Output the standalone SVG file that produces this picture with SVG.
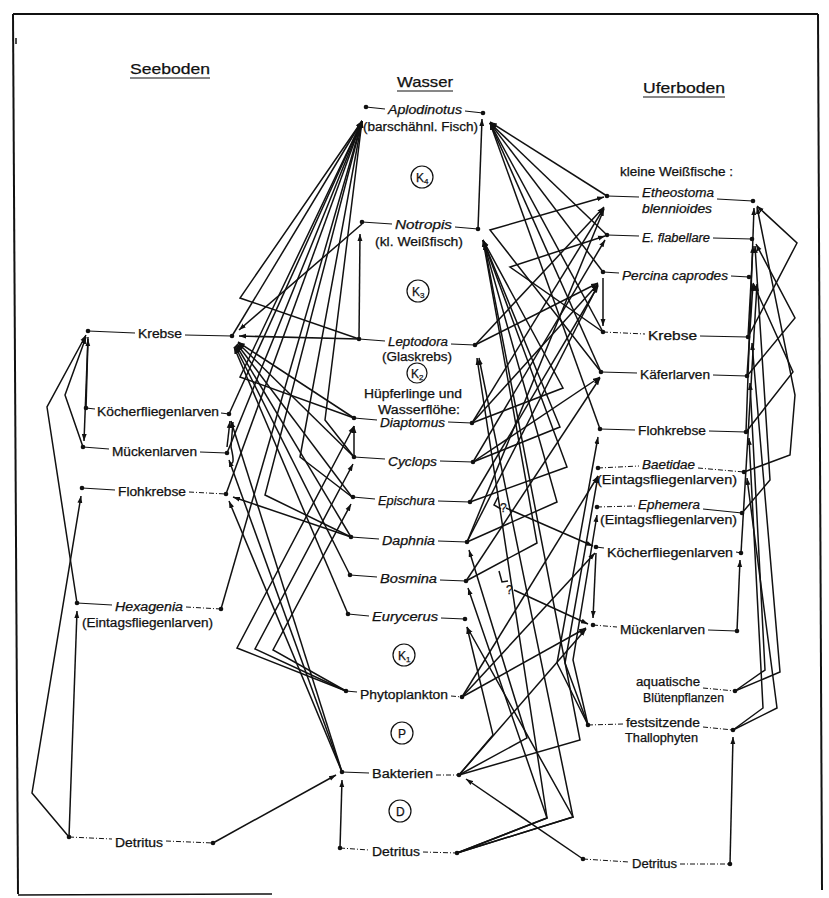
<svg xmlns="http://www.w3.org/2000/svg" width="829" height="898" viewBox="0 0 829 898">
<defs>
<marker id="ah" viewBox="0 0 10 10" refX="10" refY="5" markerWidth="7" markerHeight="7" markerUnits="userSpaceOnUse" orient="auto"><path d="M0,1.5 L10,5 L0,8.5 z" fill="#111"/></marker>
</defs>
<style>
.t{font-family:"Liberation Sans",Arial,sans-serif;font-size:12px;fill:#111;stroke:#111;stroke-width:0.25}
.i{font-style:italic}
.h{font-size:15px}
.s{stroke:#111;stroke-width:1.1;fill:none}
.dd{stroke:#111;stroke-width:1;fill:none;stroke-dasharray:5 2 1 2}
.d{fill:#111}
.k{fill:none;stroke:#111;stroke-width:1.2}
.cn path{stroke:#111;stroke-width:1.5;fill:none;marker-end:url(#ah)}
.cn path.n{marker-end:none}
</style>
<rect width="829" height="898" fill="#fff"/>
<g id="frame" fill="none" stroke="#111">
<path d="M13,14 L818,14" stroke-width="2"/>
<path d="M13,14 L18,894" stroke-width="2"/>
<path d="M818,14 L822,890" stroke-width="2"/>
<path d="M18,895 L272,894" stroke-width="1.5"/>
<path d="M16,38 L16,44" stroke-width="1.5"/>
</g>
<g id="headers">
<text class="t h" x="130" y="74" textLength="80" lengthAdjust="spacingAndGlyphs">Seeboden</text><path class="s" d="M130,78 L210,78"/>
<text class="t h" x="397" y="87" textLength="56" lengthAdjust="spacingAndGlyphs">Wasser</text><path class="s" d="M397,91 L453,91"/>
<text class="t h" x="643" y="93" textLength="82" lengthAdjust="spacingAndGlyphs">Uferboden</text><path class="s" d="M643,97 L725,97"/>
</g>
<g id="levels">
<circle class="k" cx="422" cy="177" r="11"/><text class="t" x="416" y="182" font-size="12">K<tspan font-size="8" dy="2">4</tspan></text>
<circle class="k" cx="418" cy="291" r="11"/><text class="t" x="412" y="296" font-size="12">K<tspan font-size="8" dy="2">3</tspan></text>
<circle class="k" cx="417" cy="373" r="10"/><text class="t" x="411" y="378" font-size="12">K<tspan font-size="8" dy="2">2</tspan></text>
<circle class="k" cx="404" cy="655" r="11"/><text class="t" x="398" y="660" font-size="12">K<tspan font-size="8" dy="2">1</tspan></text>
<circle class="k" cx="402" cy="733" r="11"/><text class="t" x="398" y="738" font-size="12">P</text>
<circle class="k" cx="400" cy="811" r="11"/><text class="t" x="396" y="816" font-size="12">D</text>
</g>
<g id="n-aplodinotus"><circle class="d" cx="366" cy="107" r="2.3"/><circle class="d" cx="483" cy="113" r="2.3"/><path class="s" d="M366,107 L385,109 M465,111 L483,113"/><text class="t i" x="388" y="114" textLength="74" lengthAdjust="spacingAndGlyphs">Aplodinotus</text><text class="t" x="363" y="131" textLength="115" lengthAdjust="spacingAndGlyphs">(barschähnl. Fisch)</text></g>
<g id="n-notropis"><circle class="d" cx="362" cy="222" r="2.3"/><circle class="d" cx="478" cy="229" r="2.3"/><path class="s" d="M362,222 L392,224 M455,227 L478,229"/><text class="t i" x="395" y="229" textLength="57" lengthAdjust="spacingAndGlyphs">Notropis</text><text class="t" x="375" y="246" textLength="88" lengthAdjust="spacingAndGlyphs">(kl. Weißfisch)</text></g>
<g id="n-leptodora"><circle class="d" cx="359" cy="339" r="2.3"/><circle class="d" cx="475" cy="345" r="2.3"/><path class="s" d="M359,339 L385,341 M451,344 L475,345"/><text class="t i" x="388" y="346" textLength="60" lengthAdjust="spacingAndGlyphs">Leptodora</text><text class="t" x="382" y="361" textLength="70" lengthAdjust="spacingAndGlyphs">(Glaskrebs)</text><text class="t" x="364" y="398" textLength="98" lengthAdjust="spacingAndGlyphs">Hüpferlinge und</text><text class="t" x="378" y="414" textLength="82" lengthAdjust="spacingAndGlyphs">Wasserflöhe:</text></g>
<g id="n-diaptomus"><circle class="d" cx="354" cy="418" r="2.3"/><circle class="d" cx="472" cy="423" r="2.3"/><path class="s" d="M354,418 L377,420 M448,422 L472,423"/><text class="t i" x="380" y="427" textLength="65" lengthAdjust="spacingAndGlyphs">Diaptomus</text></g>
<g id="n-cyclops"><circle class="d" cx="354" cy="457" r="2.3"/><circle class="d" cx="473" cy="462" r="2.3"/><path class="s" d="M354,457 L385,459 M440,461 L473,462"/><text class="t i" x="388" y="466" textLength="49" lengthAdjust="spacingAndGlyphs">Cyclops</text></g>
<g id="n-epischura"><circle class="d" cx="353" cy="497" r="2.3"/><circle class="d" cx="470" cy="502" r="2.3"/><path class="s" d="M353,497 L375,499 M438,501 L470,502"/><text class="t i" x="378" y="505" textLength="57" lengthAdjust="spacingAndGlyphs">Epischura</text></g>
<g id="n-daphnia"><circle class="d" cx="351" cy="537" r="2.3"/><circle class="d" cx="467" cy="542" r="2.3"/><path class="s" d="M351,537 L379,539 M438,541 L467,542"/><text class="t i" x="382" y="545" textLength="53" lengthAdjust="spacingAndGlyphs">Daphnia</text></g>
<g id="n-bosmina"><circle class="d" cx="350" cy="575" r="2.3"/><circle class="d" cx="466" cy="581" r="2.3"/><path class="s" d="M350,575 L377,577 M440,580 L466,581"/><text class="t i" x="380" y="583" textLength="57" lengthAdjust="spacingAndGlyphs">Bosmina</text></g>
<g id="n-eurycerus"><circle class="d" cx="348" cy="614" r="2.3"/><circle class="d" cx="465" cy="619" r="2.3"/><path class="s" d="M348,614 L369,616 M441,618 L465,619"/><text class="t i" x="372" y="621" textLength="66" lengthAdjust="spacingAndGlyphs">Eurycerus</text></g>
<g id="n-phytoplankton"><circle class="d" cx="346" cy="691" r="2.3"/><circle class="d" cx="462" cy="697" r="2.3"/><path class="s" d="M346,691 L357,692"/><path class="dd" d="M451,696 L462,697"/><text class="t" x="360" y="699" textLength="88" lengthAdjust="spacingAndGlyphs">Phytoplankton</text></g>
<g id="n-bakterien"><circle class="d" cx="342" cy="772" r="2.3"/><circle class="d" cx="459" cy="775" r="2.3"/><path class="s" d="M342,772 L369,773"/><path class="dd" d="M436,775 L459,775"/><text class="t" x="372" y="778" textLength="61" lengthAdjust="spacingAndGlyphs">Bakterien</text></g>
<g id="n-detritus-m"><circle class="d" cx="340" cy="848" r="2.3"/><circle class="d" cx="457" cy="853" r="2.3"/><path class="dd" d="M340,848 L369,850 M423,852 L457,853"/><text class="t" x="372" y="856" textLength="48" lengthAdjust="spacingAndGlyphs">Detritus</text></g>
<g id="n-krebse-l"><circle class="d" cx="88" cy="331" r="2.3"/><circle class="d" cx="232" cy="336" r="2.3"/><path class="s" d="M88,331 L135,333 M185,335 L232,336"/><text class="t" x="138" y="338" textLength="44" lengthAdjust="spacingAndGlyphs">Krebse</text></g>
<g id="n-koecher-l"><circle class="d" cx="86" cy="408" r="2.3"/><circle class="d" cx="229" cy="414" r="2.3"/><path class="s" d="M86,408 L95,409 M221,413 L229,414"/><text class="t" x="97" y="416" textLength="122" lengthAdjust="spacingAndGlyphs">Köcherfliegenlarven</text></g>
<g id="n-muecken-l"><circle class="d" cx="83" cy="447" r="2.3"/><circle class="d" cx="227" cy="453" r="2.3"/><path class="s" d="M83,447 L109,449 M200,452 L227,453"/><text class="t" x="112" y="456" textLength="85" lengthAdjust="spacingAndGlyphs">Mückenlarven</text></g>
<g id="n-floh-l"><circle class="d" cx="82" cy="488" r="2.3"/><circle class="d" cx="226" cy="494" r="2.3"/><path class="s" d="M82,488 L115,490"/><path class="dd" d="M189,492 L226,494"/><text class="t" x="118" y="496" textLength="68" lengthAdjust="spacingAndGlyphs">Flohkrebse</text></g>
<g id="n-hexagenia"><circle class="d" cx="77" cy="603" r="2.3"/><circle class="d" cx="221" cy="609" r="2.3"/><path class="s" d="M77,603 L112,605"/><path class="dd" d="M186,607 L221,609"/><text class="t i" x="115" y="611" textLength="68" lengthAdjust="spacingAndGlyphs">Hexagenia</text><text class="t" x="82" y="627" textLength="131" lengthAdjust="spacingAndGlyphs">(Eintagsfliegenlarven)</text></g>
<g id="n-detritus-l"><circle class="d" cx="69" cy="837" r="2.3"/><circle class="d" cx="213" cy="843" r="2.3"/><path class="dd" d="M69,837 L112,839 M166,841 L213,843"/><text class="t" x="115" y="847" textLength="48" lengthAdjust="spacingAndGlyphs">Detritus</text></g>
<g id="n-etheostoma"><text class="t" x="620" y="176" textLength="113" lengthAdjust="spacingAndGlyphs">kleine Weißfische :</text><circle class="d" cx="607" cy="196" r="2.3"/><circle class="d" cx="753" cy="201" r="2.3"/><path class="s" d="M607,196 L639,197 M717,199 L753,201"/><text class="t i" x="642" y="197" textLength="72" lengthAdjust="spacingAndGlyphs">Etheostoma</text><text class="t i" x="642" y="213" textLength="70" lengthAdjust="spacingAndGlyphs">blennioides</text></g>
<g id="n-flabellare"><circle class="d" cx="607" cy="235" r="2.3"/><circle class="d" cx="752" cy="239" r="2.3"/><path class="s" d="M607,235 L639,236 M713,238 L752,239"/><text class="t i" x="642" y="242" textLength="68" lengthAdjust="spacingAndGlyphs">E. flabellare</text></g>
<g id="n-percina"><circle class="d" cx="603" cy="272" r="2.3"/><circle class="d" cx="749" cy="277" r="2.3"/><path class="s" d="M603,272 L619,273 M731,276 L749,277"/><text class="t i" x="622" y="280" textLength="106" lengthAdjust="spacingAndGlyphs">Percina caprodes</text></g>
<g id="n-krebse-r"><circle class="d" cx="603" cy="332" r="2.3"/><circle class="d" cx="748" cy="337" r="2.3"/><path class="dd" d="M603,332 L645,334"/><path class="s" d="M700,336 L748,337"/><text class="t" x="648" y="340" textLength="49" lengthAdjust="spacingAndGlyphs">Krebse</text></g>
<g id="n-kaefer"><circle class="d" cx="601" cy="372" r="2.3"/><circle class="d" cx="747" cy="376" r="2.3"/><path class="s" d="M601,372 L637,373 M713,375 L747,376"/><text class="t" x="640" y="379" textLength="70" lengthAdjust="spacingAndGlyphs">Käferlarven</text></g>
<g id="n-floh-r"><circle class="d" cx="600" cy="429" r="2.3"/><circle class="d" cx="746" cy="432" r="2.3"/><path class="s" d="M600,429 L635,430 M709,431 L746,432"/><text class="t" x="638" y="435" textLength="68" lengthAdjust="spacingAndGlyphs">Flohkrebse</text></g>
<g id="n-baetidae"><circle class="d" cx="598" cy="468" r="2.3"/><circle class="d" cx="744" cy="472" r="2.3"/><path class="dd" d="M598,468 L639,466 M698,468 L744,472"/><text class="t i" x="642" y="469" textLength="53" lengthAdjust="spacingAndGlyphs">Baetidae</text><text class="t" x="597" y="484" textLength="140" lengthAdjust="spacingAndGlyphs">(Eintagsfliegenlarven)</text></g>
<g id="n-ephemera"><circle class="d" cx="597" cy="507" r="2.3"/><circle class="d" cx="742" cy="513" r="2.3"/><path class="dd" d="M597,507 L635,506"/><path class="s" d="M703,509 L742,513"/><text class="t i" x="638" y="509" textLength="62" lengthAdjust="spacingAndGlyphs">Ephemera</text><text class="t" x="600" y="524" textLength="137" lengthAdjust="spacingAndGlyphs">(Eintagsfliegenlarven)</text></g>
<g id="n-koecher-r"><circle class="d" cx="596" cy="547" r="2.3"/><circle class="d" cx="741" cy="553" r="2.3"/><path class="s" d="M596,547 L604,548 M736,552 L741,553"/><text class="t" x="607" y="557" textLength="126" lengthAdjust="spacingAndGlyphs">Köcherfliegenlarven</text></g>
<g id="n-muecken-r"><circle class="d" cx="593" cy="625" r="2.3"/><circle class="d" cx="737" cy="631" r="2.3"/><path class="dd" d="M593,625 L617,627"/><path class="s" d="M708,630 L737,631"/><text class="t" x="620" y="634" textLength="85" lengthAdjust="spacingAndGlyphs">Mückenlarven</text></g>
<g id="n-aquatische"><circle class="d" cx="735" cy="691" r="2.3"/><path class="dd" d="M703,688 L735,691"/><text class="t" x="636" y="686" textLength="64" lengthAdjust="spacingAndGlyphs">aquatische</text><text class="t" x="643" y="702" textLength="81" lengthAdjust="spacingAndGlyphs">Blütenpflanzen</text></g>
<g id="n-festsitzende"><circle class="d" cx="588" cy="725" r="2.3"/><circle class="d" cx="733" cy="730" r="2.3"/><path class="dd" d="M588,725 L623,724 M703,727 L733,730"/><text class="t" x="626" y="727" textLength="74" lengthAdjust="spacingAndGlyphs">festsitzende</text><text class="t" x="625" y="742" textLength="73" lengthAdjust="spacingAndGlyphs">Thallophyten</text></g>
<g id="n-detritus-r"><circle class="d" cx="583" cy="859" r="2.3"/><circle class="d" cx="730" cy="864" r="2.3"/><path class="dd" d="M583,859 L629,862 M680,864 L730,864"/><text class="t" x="632" y="868" textLength="45" lengthAdjust="spacingAndGlyphs">Detritus</text></g>
<g id="connectors" class="cn">
<path d="M232,336 L362,121"/>
<path d="M229,414 L362,121"/>
<path d="M227,453 L362,121"/>
<path d="M226,494 L362,121"/>
<path d="M221,609 L362,121"/>
<path d="M354,418 L240,377 L362,121"/>
<path d="M354,457 L325,420 L362,121"/>
<path d="M352,497 L300,457 L362,121"/>
<path d="M351,537 L265,495 L362,121"/>
<path d="M359,339 L240,298 L362,121"/>
<path d="M359,339 L360,234"/>
<path d="M478,229 L482,119"/>
<path d="M362,224 L239,330"/>
<path d="M359,339 L239,336"/>
<path d="M354,418 L238,342"/>
<path d="M354,457 L238,343"/>
<path d="M352,497 L237,344"/>
<path d="M351,537 L236,345"/>
<path d="M350,575 L235,346"/>
<path d="M348,614 L234,347"/>
<path d="M77,603 L47,407 L86,335"/>
<path d="M69,837 L32,793 L81,496"/>
<path d="M69,837 L77,611"/>
<path d="M86,408 L88,339"/>
<path d="M83,447 L65,395 L86,337"/>
<path d="M88,337 L84,441"/>
<path d="M227,447 L230,421"/>
<path class="n" d="M233,422 L231,447 Q236,468 229,462"/>
<path d="M346,691 L237,648 L354,426"/>
<path d="M346,691 L255,649 L353,464"/>
<path d="M346,691 L273,650 L351,504"/>
<path d="M342,772 L231,421"/>
<path d="M342,772 L229,460"/>
<path d="M342,772 L229,501"/>
<path d="M351,537 L233,497"/>
<path d="M213,843 L336,775"/>
<path d="M340,848 L342,780"/>
<path d="M354,457 L354,426"/>
<path d="M472,423 L563,388 L483,240"/>
<path d="M473,462 L560,427 L483,240"/>
<path d="M470,502 L567,467 L483,240"/>
<path d="M467,542 L557,502 L483,240"/>
<path d="M466,581 L537,543 L483,240"/>
<path d="M601,372 L490,230 L604,197"/>
<path d="M603,332 L510,267 L605,236"/>
<path d="M607,196 L490,122"/>
<path d="M607,235 L490,123"/>
<path d="M603,272 L490,123"/>
<path d="M603,332 L490,123"/>
<path d="M601,372 L490,123"/>
<path d="M600,429 L490,123"/>
<path d="M475,345 L604,207"/>
<path d="M475,345 L598,283"/>
<path d="M472,423 L604,208"/>
<path d="M472,423 L598,284"/>
<path d="M473,462 L605,240"/>
<path d="M467,542 L598,285"/>
<path d="M467,542 L604,209"/>
<path d="M470,502 L598,286"/>
<path d="M466,581 L600,378"/>
<path d="M473,462 L600,377"/>
<path d="M603,278 L603,326"/>
<path d="M462,697 L586,628"/>
<path d="M462,697 L598,476"/>
<path d="M459,775 L586,629"/>
<path d="M459,775 L580,740 L484,243"/>
<path d="M459,775 L527,738 L469,550"/>
<path d="M459,775 L493,735 L467,627"/>
<path d="M457,853 L547,818 L468,588"/>
<path d="M457,853 L573,817 L467,627"/>
<path d="M457,853 L547,818 L477,358"/>
<path d="M457,853 L573,817 L479,358"/>
<path d="M583,859 L466,779"/>
<path d="M588,725 L557,663 L598,437"/>
<path d="M588,725 L565,663 L598,476"/>
<path d="M588,725 L573,660 L597,515"/>
<path d="M596,553 L593,618"/>
<path d="M462,697 L595,553"/>
<path class="n" d="M498,497 L494,505 L501,509"/>
<path d="M506,508 L593,546"/>
<path class="n" d="M499,571 L502,582 L508,581"/>
<path d="M514,590 L588,624"/>
<path d="M748,337 L797,243 L757,206"/>
<path d="M747,376 L795,318 L756,244"/>
<path d="M746,432 L793,372 L753,283"/>
<path d="M744,472 L790,455 L795,395 L757,207"/>
<path d="M742,513 L770,480 L755,246"/>
<path d="M741,553 L757,284"/>
<path d="M737,631 L740,560"/>
<path d="M735,691 L765,670 L750,383"/>
<path d="M735,691 L780,672 L752,343"/>
<path d="M733,730 L763,708 L749,438"/>
<path d="M733,730 L777,708 L747,478"/>
<path d="M730,864 L733,737"/>
<path d="M746,432 L754,208"/>
<path d="M747,376 L753,284"/>
<path d="M748,337 L753,246"/>
</g>
<g id="qmarks"><text class="t" x="500" y="512" font-size="10">?</text><text class="t" x="506" y="594" font-size="10">?</text></g>
</svg>
